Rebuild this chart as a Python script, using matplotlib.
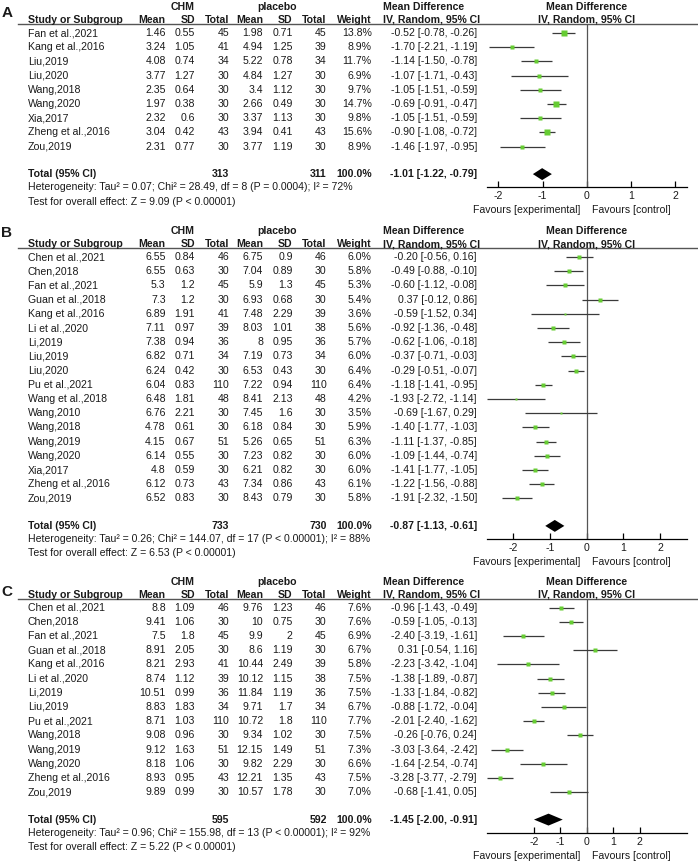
import numpy as np
import matplotlib
matplotlib.use('Agg')
import matplotlib.pyplot as plt

plt.rcParams['font.family'] = ['Liberation Sans', 'DejaVu Sans']
plt.rcParams['axes.unicode_minus'] = False

# ---------------- panel A ----------------
a_study = ['Fan et al.,2021', 'Kang et al.,2016', 'Liu,2019', 'Liu,2020', 'Wang,2018',
           'Wang,2020', 'Xia,2017', 'Zheng et al.,2016', 'Zou,2019']
a_chm_mean = [1.46, 3.24, 4.08, 3.77, 2.35, 1.97, 2.32, 3.04, 2.31]
a_chm_sd = [0.55, 1.05, 0.74, 1.27, 0.64, 0.38, 0.6, 0.42, 0.77]
a_chm_n = [45, 41, 34, 30, 30, 30, 30, 43, 30]
a_pla_mean = [1.98, 4.94, 5.22, 4.84, 3.4, 2.66, 3.37, 3.94, 3.77]
a_pla_sd = [0.71, 1.25, 0.78, 1.27, 1.12, 0.49, 1.13, 0.41, 1.19]
a_pla_n = [45, 39, 34, 30, 30, 30, 30, 43, 30]
a_weight = [13.8, 8.9, 11.7, 6.9, 9.7, 14.7, 9.8, 15.6, 8.9]
a_md = [-0.52, -1.70, -1.14, -1.07, -1.05, -0.69, -1.05, -0.90, -1.46]
a_lo = [-0.78, -2.21, -1.50, -1.71, -1.51, -0.91, -1.51, -1.08, -1.97]
a_hi = [-0.26, -1.19, -0.78, -0.43, -0.59, -0.47, -0.59, -0.72, -0.95]
a_total = [313, 311, -1.01, -1.22, -0.79]
a_het = 'Heterogeneity: Tau\u00b2 = 0.07; Chi\u00b2 = 28.49, df = 8 (P = 0.0004); I\u00b2 = 72%'
a_test = 'Test for overall effect: Z = 9.09 (P < 0.00001)'

# ---------------- panel B ----------------
b_study = ['Chen et al.,2021', 'Chen,2018', 'Fan et al.,2021', 'Guan et al.,2018',
           'Kang et al.,2016', 'Li et al.,2020', 'Li,2019', 'Liu,2019', 'Liu,2020',
           'Pu et al.,2021', 'Wang et al.,2018', 'Wang,2010', 'Wang,2018', 'Wang,2019',
           'Wang,2020', 'Xia,2017', 'Zheng et al.,2016', 'Zou,2019']
b_chm_mean = [6.55, 6.55, 5.3, 7.3, 6.89, 7.11, 7.38, 6.82, 6.24, 6.04, 6.48, 6.76,
              4.78, 4.15, 6.14, 4.8, 6.12, 6.52]
b_chm_sd = [0.84, 0.63, 1.2, 1.2, 1.91, 0.97, 0.94, 0.71, 0.42, 0.83, 1.81, 2.21,
            0.61, 0.67, 0.55, 0.59, 0.73, 0.83]
b_chm_n = [46, 30, 45, 30, 41, 39, 36, 34, 30, 110, 48, 30, 30, 51, 30, 30, 43, 30]
b_pla_mean = [6.75, 7.04, 5.9, 6.93, 7.48, 8.03, 8, 7.19, 6.53, 7.22, 8.41, 7.45,
              6.18, 5.26, 7.23, 6.21, 7.34, 8.43]
b_pla_sd = [0.9, 0.89, 1.3, 0.68, 2.29, 1.01, 0.95, 0.73, 0.43, 0.94, 2.13, 1.6,
            0.84, 0.65, 0.82, 0.82, 0.86, 0.79]
b_pla_n = [46, 30, 45, 30, 39, 38, 36, 34, 30, 110, 48, 30, 30, 51, 30, 30, 43, 30]
b_weight = [6.0, 5.8, 5.3, 5.4, 3.6, 5.6, 5.7, 6.0, 6.4, 6.4, 4.2, 3.5, 5.9, 6.3,
            6.0, 6.0, 6.1, 5.8]
b_md = [-0.20, -0.49, -0.60, 0.37, -0.59, -0.92, -0.62, -0.37, -0.29, -1.18, -1.93,
        -0.69, -1.40, -1.11, -1.09, -1.41, -1.22, -1.91]
b_lo = [-0.56, -0.88, -1.12, -0.12, -1.52, -1.36, -1.06, -0.71, -0.51, -1.41, -2.72,
        -1.67, -1.77, -1.37, -1.44, -1.77, -1.56, -2.32]
b_hi = [0.16, -0.10, -0.08, 0.86, 0.34, -0.48, -0.18, -0.03, -0.07, -0.95, -1.14,
        0.29, -1.03, -0.85, -0.74, -1.05, -0.88, -1.50]
b_total = [733, 730, -0.87, -1.13, -0.61]
b_het = 'Heterogeneity: Tau\u00b2 = 0.26; Chi\u00b2 = 144.07, df = 17 (P < 0.00001); I\u00b2 = 88%'
b_test = 'Test for overall effect: Z = 6.53 (P < 0.00001)'

# ---------------- panel C ----------------
c_study = ['Chen et al.,2021', 'Chen,2018', 'Fan et al.,2021', 'Guan et al.,2018',
           'Kang et al.,2016', 'Li et al.,2020', 'Li,2019', 'Liu,2019', 'Pu et al.,2021',
           'Wang,2018', 'Wang,2019', 'Wang,2020', 'Zheng et al.,2016', 'Zou,2019']
c_chm_mean = [8.8, 9.41, 7.5, 8.91, 8.21, 8.74, 10.51, 8.83, 8.71, 9.08, 9.12, 8.18,
              8.93, 9.89]
c_chm_sd = [1.09, 1.06, 1.8, 2.05, 2.93, 1.12, 0.99, 1.83, 1.03, 0.96, 1.63, 1.06,
            0.95, 0.99]
c_chm_n = [46, 30, 45, 30, 41, 39, 36, 34, 110, 30, 51, 30, 43, 30]
c_pla_mean = [9.76, 10, 9.9, 8.6, 10.44, 10.12, 11.84, 9.71, 10.72, 9.34, 12.15, 9.82,
              12.21, 10.57]
c_pla_sd = [1.23, 0.75, 2, 1.19, 2.49, 1.15, 1.19, 1.7, 1.8, 1.02, 1.49, 2.29, 1.35, 1.78]
c_pla_n = [46, 30, 45, 30, 39, 38, 36, 34, 110, 30, 51, 30, 43, 30]
c_weight = [7.6, 7.6, 6.9, 6.7, 5.8, 7.5, 7.5, 6.7, 7.7, 7.5, 7.3, 6.6, 7.5, 7.0]
c_md = [-0.96, -0.59, -2.40, 0.31, -2.23, -1.38, -1.33, -0.88, -2.01, -0.26, -3.03,
        -1.64, -3.28, -0.68]
c_lo = [-1.43, -1.05, -3.19, -0.54, -3.42, -1.89, -1.84, -1.72, -2.40, -0.76, -3.64,
        -2.54, -3.77, -1.41]
c_hi = [-0.49, -0.13, -1.61, 1.16, -1.04, -0.87, -0.82, -0.04, -1.62, 0.24, -2.42,
        -0.74, -2.79, 0.05]
c_total = [595, 592, -1.45, -2.00, -0.91]
c_het = 'Heterogeneity: Tau\u00b2 = 0.96; Chi\u00b2 = 155.98, df = 13 (P < 0.00001); I\u00b2 = 92%'
c_test = 'Test for overall effect: Z = 5.22 (P < 0.00001)'

ticks = [-2, -1, 0, 1, 2]

W, H = 698, 863
S = 14.2          # row pitch in pixels
FS = 7.6
TXT = '#1a1a1a'
GREEN = '#66cc33'

fig = plt.figure(figsize=(W / 100, H / 100), dpi=100)
lay = fig.add_axes([0, 0, 1, 1])
lay.set_xlim(0, W)
lay.set_ylim(H, 0)
lay.axis('off')

# right edges of the numeric columns
cols = [165.7, 195, 229, 263, 292.7, 326.7]


def t(x, y, s, ha='left', bold=False, size=FS):
    lay.text(x, y, s, ha=ha, va='center', fontsize=size, color=TXT,
             fontweight='bold' if bold else 'normal')


def panel(label, ylab, y0, study, cm, cs, cn, pm, ps, pn, wt, md, lo, hi, tot, het, test, lim):
    n = len(study)
    ytot = y0 + (n - 1) * S + 27.5
    yax = ytot + 13
    yul = y0 - 8.5

    t(1.5, ylab, label, bold=True, size=11)
    t(183, y0 - 26, 'CHM', ha='center', bold=True)
    t(277, y0 - 26, 'placebo', ha='center', bold=True)
    t(383, y0 - 26, 'Mean Difference', bold=True)
    t(587, y0 - 26, 'Mean Difference', ha='center', bold=True)
    y1 = y0 - 13
    t(28, y1, 'Study or Subgroup', bold=True)
    for x, h in zip(cols + [371.7], ['Mean', 'SD', 'Total', 'Mean', 'SD', 'Total', 'Weight']):
        t(x, y1, h, ha='right', bold=True)
    t(383, y1, 'IV, Random, 95% CI', bold=True)
    t(587, y1, 'IV, Random, 95% CI', ha='center', bold=True)
    lay.plot([18, W], [yul, yul], color='#555555', lw=1)

    for i in range(n):
        y = y0 + i * S
        t(28, y, study[i])
        vals = ['{:g}'.format(cm[i]), '{:g}'.format(cs[i]), str(cn[i]),
                '{:g}'.format(pm[i]), '{:g}'.format(ps[i]), str(pn[i])]
        for x, v in zip(cols, vals):
            t(x, y, v, ha='right')
        t(371.7, y, '{:.1f}%'.format(wt[i]), ha='right')
        t(477, y, '{:.2f} [{:.2f}, {:.2f}]'.format(md[i], lo[i], hi[i]), ha='right')

    t(28, ytot, 'Total (95% CI)', bold=True)
    t(cols[2], ytot, str(tot[0]), ha='right', bold=True)
    t(cols[5], ytot, str(tot[1]), ha='right', bold=True)
    t(371.7, ytot, '100.0%', ha='right', bold=True)
    t(477, ytot, '{:.2f} [{:.2f}, {:.2f}]'.format(tot[2], tot[3], tot[4]), ha='right', bold=True)
    t(28, ytot + 13.4, het)
    t(28, ytot + 27.4, test)
    t(580, yax + 23, 'Favours [experimental]', ha='right')
    t(592, yax + 23, 'Favours [control]')

    # forest plot axes, rows in index units
    ax = fig.add_axes([486.5 / W, 1 - yax / H, 200.5 / W, (yax - yul) / H])
    ax.set_xlim(-lim, lim)
    ax.set_ylim((yax - y0) / S, (yul - y0) / S)
    ax.patch.set_visible(False)
    for sp in ['top', 'left', 'right']:
        ax.spines[sp].set_visible(False)
    ax.spines['bottom'].set_linewidth(0.9)
    ax.set_yticks([])
    ax.set_xticks(ticks)
    ax.set_xticklabels([str(v) for v in ticks])
    ax.tick_params(axis='x', direction='in', length=4, width=0.9, pad=3,
                   labelsize=FS, labelcolor=TXT)
    ax.axvline(0, color='#555555', lw=0.9)

    rows = np.arange(n)
    ax.hlines(rows, lo, hi, color='#3a3a3a', lw=0.9)
    for i in range(n):
        ax.plot(md[i], i, marker='s', ms=np.sqrt(wt[i]) * 1.0, color=GREEN, mec='none')
    rt = (ytot - y0) / S
    dh = 0.42
    ax.fill([tot[3], tot[2], tot[4], tot[2]], [rt, rt - dh, rt, rt + dh], color='black', lw=0)


panel('A', 13, 33, a_study, a_chm_mean, a_chm_sd, a_chm_n, a_pla_mean, a_pla_sd, a_pla_n,
      a_weight, a_md, a_lo, a_hi, a_total, a_het, a_test, 2.27)
panel('B', 233, 257, b_study, b_chm_mean, b_chm_sd, b_chm_n, b_pla_mean, b_pla_sd, b_pla_n,
      b_weight, b_md, b_lo, b_hi, b_total, b_het, b_test, 2.73)
panel('C', 592, 607.5, c_study, c_chm_mean, c_chm_sd, c_chm_n, c_pla_mean, c_pla_sd, c_pla_n,
      c_weight, c_md, c_lo, c_hi, c_total, c_het, c_test, 3.8)

fig.savefig('out.png', dpi=100)
